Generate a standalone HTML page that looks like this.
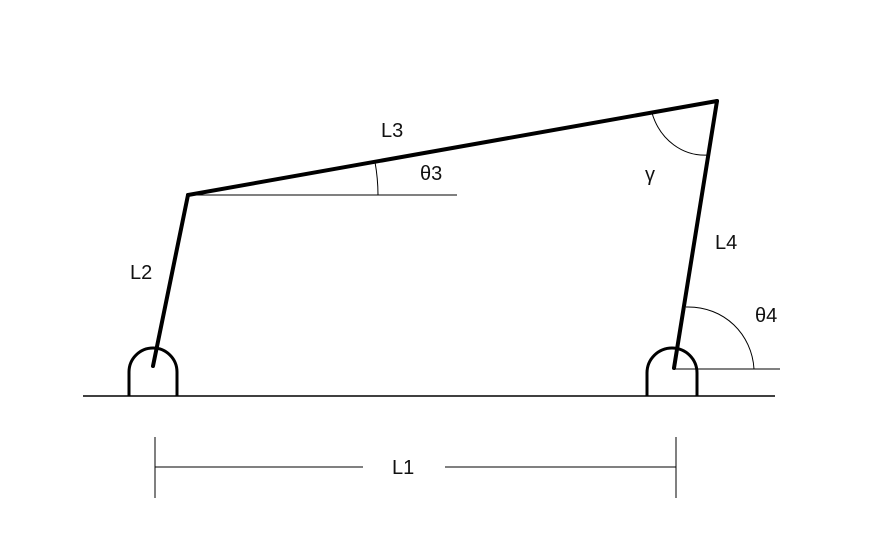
<!DOCTYPE html>
<html><head><meta charset="utf-8"><style>
html,body{margin:0;padding:0;background:#fff;}
svg{display:block;}
text{font-family:"Liberation Sans",sans-serif;font-size:20px;fill:#111;}
</style></head><body>
<svg width="889" height="542" viewBox="0 0 889 542">
<line x1="83" y1="396" x2="775" y2="396" stroke="#000" stroke-width="1.5"/>
<path d="M129,396 V372 A24,24 0 0 1 177,372 V396" fill="none" stroke="#000" stroke-width="3"/>
<path d="M647,396 V373 A25,25 0 0 1 697,373 V396" fill="none" stroke="#000" stroke-width="3"/>
<line x1="153" y1="366" x2="188" y2="195" stroke="#000" stroke-width="4" stroke-linecap="round"/>
<line x1="188" y1="195" x2="717" y2="101" stroke="#000" stroke-width="4" stroke-linecap="round"/>
<line x1="674" y1="368" x2="717" y2="101" stroke="#000" stroke-width="4" stroke-linecap="round"/>
<line x1="188" y1="195" x2="457" y2="195" stroke="#000" stroke-width="1"/>
<path d="M378,195 A190,190 0 0 0 375,162" fill="none" stroke="#000" stroke-width="1"/>
<line x1="674" y1="369" x2="780" y2="369" stroke="#000" stroke-width="1"/>
<path d="M686,307 C725,306 752,335 754,369" fill="none" stroke="#000" stroke-width="1"/>
<path d="M652,113 C660,140 683,157 709,155" fill="none" stroke="#000" stroke-width="1"/>
<line x1="155" y1="437" x2="155" y2="498" stroke="#000" stroke-width="1"/>
<line x1="676" y1="437" x2="676" y2="498" stroke="#000" stroke-width="1"/>
<line x1="155" y1="467" x2="363" y2="467" stroke="#000" stroke-width="1"/>
<line x1="445" y1="467" x2="676" y2="467" stroke="#000" stroke-width="1"/>
<text x="392" y="474">L1</text>
<text x="130" y="279">L2</text>
<text x="381" y="137">L3</text>
<text x="715" y="249">L4</text>
<text x="420" y="180">θ3</text>
<text x="755" y="322">θ4</text>
<text x="645" y="181">γ</text>
</svg>
</body></html>
